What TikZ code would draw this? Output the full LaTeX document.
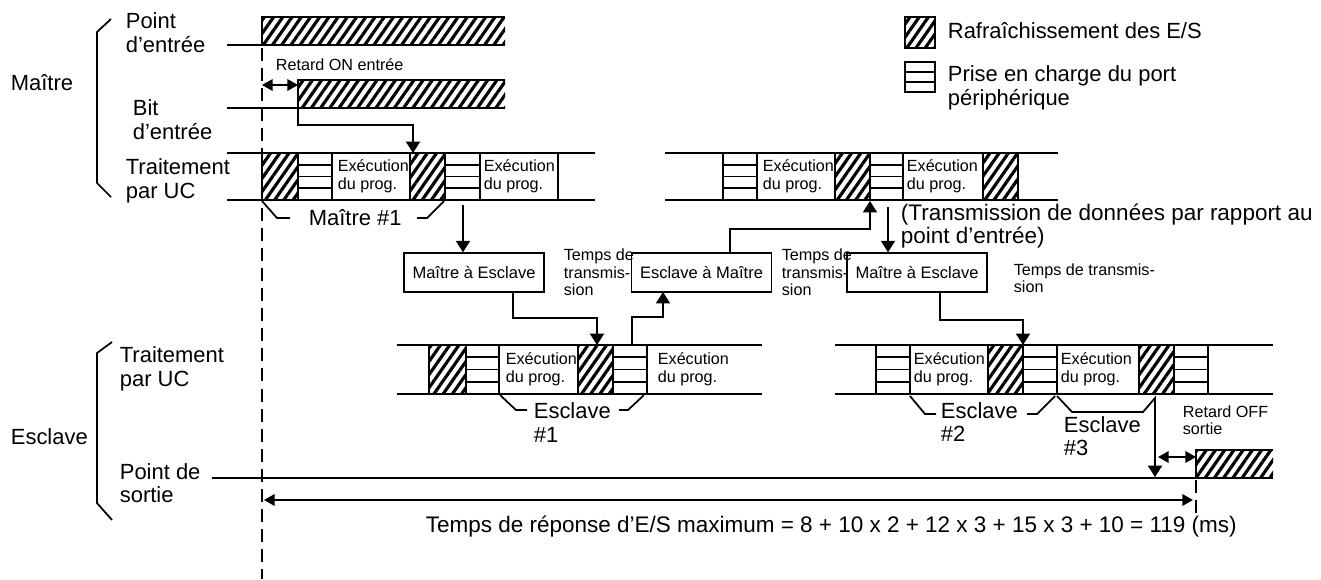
\documentclass[tikz,border=0pt]{standalone}
\usepackage{fontspec}
\setmainfont{Liberation Sans}
\usetikzlibrary{arrows.meta,patterns.meta}

% box of the peripheral port service, cut in #5 cells
\newcommand\prise[5]{%
  \draw (#1,#2) rectangle (#3,#4);
  \foreach \k in {2,...,#5}
    \draw (#1,{#2+(\k-1)*(#4-#2)/#5}) -- (#3,{#2+(\k-1)*(#4-#2)/#5});}

\begin{document}
\begin{tikzpicture}[x=0.02cm, y=-0.02cm, line width=1pt,
    lbl/.style={font=\fontsize{12.5}{13.5}\selectfont, align=left, anchor=west, inner sep=0pt},
    big/.style={lbl, font=\fontsize{12.8}{13.5}\selectfont},
    sml/.style={font=\fontsize{9.2}{10}\selectfont, align=left, anchor=west, inner sep=0pt},
    hfill/.style={pattern={Lines[angle=55,distance=4.3pt,line width=1.8pt]}},
    hatch/.style={draw, hfill},
    trans/.style={draw, line width=0.85pt, minimum width=79.7pt, minimum height=22.2pt,
      inner sep=0pt, font=\fontsize{9.4}{10}\selectfont},
    arr/.style={-{Triangle[length=6.5pt,width=8pt]}},
    darr/.style={{Triangle[length=6pt,width=6.5pt]}-{Triangle[length=6pt,width=6.5pt]}},
    axe/.style={dash pattern=on 7.4pt off 4pt, line width=0.7pt}]
  \useasboundingbox (0,0) rectangle (1321,579);

  % Maitre
  \draw (111,19) -- (97,32) -- (97,183) -- (111,197);
  \node[lbl] (maitre) at (10,83) {Maître};
  \node[lbl] (pe) at (125,32.5) {Point\\d’entrée};
  \node[lbl] (be) at (132,119.5) {Bit\\d’entrée};
  \node[lbl] (tm) at (125,181) {Traitement\\par UC};

  \fill[hfill] (262,17) rectangle (505,45);
  \draw (505,17) -- (262,17) -- (262,45);
  \draw (227,45) -- (505,45);
  \fill[hfill] (298,80) rectangle (505,108);
  \draw (505,80) -- (298,80) -- (298,108);
  \draw (227,108) -- (505,108);
  \draw[axe] (262,48) -- (262,579);
  \coordinate (t0) at (262,85);
  \coordinate (bit) at (298,85);
  \draw[darr] (t0) -- (bit);
  \node[sml] (ron) at (275,65) {Retard ON entrée};
  \coordinate (bitin) at (298,108);
  \coordinate (m1a) at (413,153);
  \draw[arr] (bitin) -- ++(0,17) -| (m1a);

  \draw (227,153) -- (595,153) (227,200) -- (595,200);
  \draw[hatch] (262,153) rectangle (298,200);
  \prise{298}{153}{332}{200}{4}
  \node[sml] (x1) at (337,176.5) {Exécution\\du prog.};
  \draw[hatch] (410,153) rectangle (445,200);
  \prise{445}{153}{480}{200}{4}
  \node[sml] (x2) at (483,176.5) {Exécution\\du prog.};
  \draw (558,153) -- (558,200);
  \draw (262,201) -- (277,218) -- (290,218) (417,218) -- (427,218) -- (444,201);
  \node[lbl] (m1) at (308,218) {Maître \#1};

  \draw (665,153) -- (1058,153) (665,200) -- (1058,200);
  \prise{723}{153}{757}{200}{4}
  \node[sml] (x3) at (762,176.5) {Exécution\\du prog.};
  \draw[hatch] (835,153) rectangle (870,200);
  \prise{870}{153}{903}{200}{4}
  \node[sml] (x4) at (906,176.5) {Exécution\\du prog.};
  \draw[hatch] (983,153) rectangle (1018,200);

  % legende
  \draw[hatch] (905,17) rectangle (935,48);
  \node[lbl] (leg1) at (947,31) {Rafraîchissement des E/S};
  \prise{905}{62}{935}{92}{3}
  \node[lbl] (leg2) at (947,88) {Prise en charge du port\\périphérique};

  % transmissions
  \node[sml] (tt1) at (563,272.5) {Temps de\\transmis-\\sion};
  \node[sml] (tt2) at (781,272.5) {Temps de\\transmis-\\sion};
  \node[sml] (tt3) at (1013,278) {Temps de transmis-\\sion};
  \node[trans] (me1) at (474,272.5) {Maître à Esclave};
  \node[trans] (em) at (701.5,272.5) {Esclave à Maître};
  \node[trans] (me2) at (917,272.5) {Maître à Esclave};
  \node[big] (tr) at (900,226) {(Transmission de données par rapport au\\point d’entrée)};

  \coordinate (m1b) at (463,205);
  \coordinate (s1a) at (597,345);
  \coordinate (s1b) at (632,345);
  \coordinate (m2a) at (870,201);
  \coordinate (m2b) at (888,207);
  \coordinate (s2a) at (1023,345);
  \draw[arr] (m1b) -- (m1b |- me1.north);
  \draw[arr] (me1.south) ++(39,0) -- ++(0,25) -| (s1a);
  \draw[arr] (s1b) |- ++(31,-28) -- ++(0,-25);
  \draw[arr] (em.north) ++(28.5,0) |- ++(140,-23) -- (m2a);
  \draw[arr] (m2b) -- (m2b |- me2.north);
  \draw[arr] (me2.south) ++(23,0) -- ++(0,27) -| (s2a);

  % Esclave
  \draw (112,342) -- (97,353) -- (97,503) -- (112,520);
  \node[lbl] (esc) at (10,437) {Esclave};
  \node[lbl] (ts) at (119,369) {Traitement\\par UC};
  \node[lbl] (ps) at (119,483) {Point de\\sortie};

  \draw (397,345) -- (762,345) (397,394) -- (762,394);
  \draw[hatch] (429,345) rectangle (466,394);
  \prise{466}{345}{499}{394}{4}
  \node[sml] (x5) at (505,369.5) {Exécution\\du prog.};
  \draw[hatch] (578,345) rectangle (613,394);
  \prise{613}{345}{647}{394}{4}
  \node[sml] (x6) at (657,369.5) {Exécution\\du prog.};
  \draw (500,395) -- (516,410) -- (527,410) (619,410) -- (628,410) -- (644,395);
  \node[lbl] (es1) at (533,422.5) {Esclave\\\#1};

  \draw (835,345) -- (1273,345) (835,394) -- (1273,394);
  \prise{876}{345}{910}{394}{4}
  \node[sml] (x7) at (913,369.5) {Exécution\\du prog.};
  \draw[hatch] (988,345) rectangle (1023,394);
  \prise{1023}{345}{1057}{394}{4}
  \node[sml] (x8) at (1060,369.5) {Exécution\\du prog.};
  \draw[hatch] (1139,345) rectangle (1174,394);
  \prise{1174}{345}{1208}{394}{4}
  \draw (910,396) -- (925,414) -- (936,414) (1027,414) -- (1037,414) -- (1055,396);
  \node[lbl] (es2) at (940,422) {Esclave\\\#2};
  \coordinate (out) at (1155,477);
  \draw[arr] (1057,396) -- (1072,412) -- (1143,412) -- (1155,398) -- (out);
  \node[lbl] (es3) at (1063,436) {Esclave\\\#3};

  \draw (212,478) -- (1273,478);
  \fill[hfill] (1196,450) rectangle (1273,478);
  \draw (1273,450) -- (1196,450) -- (1196,478);
  \coordinate (off0) at (1158,457);
  \coordinate (off1) at (1196,457);
  \draw[darr] (off0) -- (off1);
  \node[sml] (roff) at (1182,420) {Retard OFF\\sortie};
  \coordinate (r0) at (264,500);
  \coordinate (r1) at (1193,500);
  \draw[darr] (r0) -- (r1);
  \draw[axe] (1196,480) -- (1196,518);
  \node[big] (tmax) at (425,527) {Temps de réponse d’E/S maximum = 8 + 10 x 2 + 12 x 3 + 15 x 3 + 10 = 119 (ms)};
\end{tikzpicture}
\end{document}
